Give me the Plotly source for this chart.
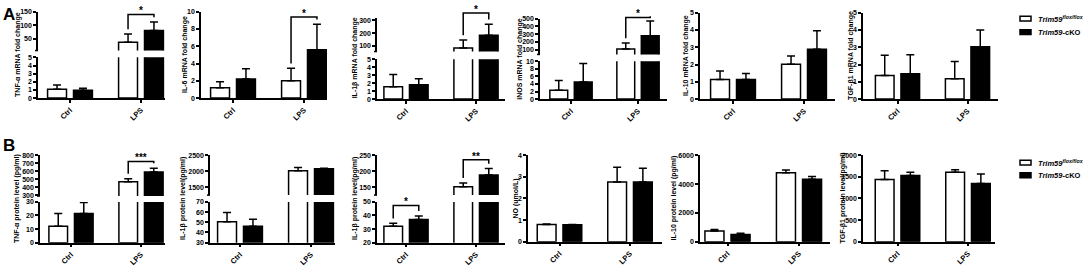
import plotly.graph_objects as go

W, H = 1084, 267

# ---------------- data ----------------
groups = ["Ctrl", "LPS"]

# Row A: mRNA fold change (mean, upper SD)
tnf_mrna_flox = [1.1, 38]
tnf_mrna_flox_sd = [0.5, 30]
tnf_mrna_cko = [0.95, 81]
tnf_mrna_cko_sd = [0.25, 31]

il6_mrna_flox = [1.2, 2.0]
il6_mrna_flox_sd = [0.7, 1.45]
il6_mrna_cko = [2.2, 5.6]
il6_mrna_cko_sd = [1.2, 2.95]

il1b_mrna_flox = [1.55, 82]
il1b_mrna_flox_sd = [1.55, 63]
il1b_mrna_cko = [1.8, 183]
il1b_mrna_cko_sd = [0.75, 87]

inos_mrna_flox = [2.35, 108]
inos_mrna_flox_sd = [2.55, 75]
inos_mrna_cko = [4.5, 279]
inos_mrna_cko_sd = [4.9, 188]

il10_mrna_flox = [1.13, 2.01]
il10_mrna_flox_sd = [0.49, 0.49]
il10_mrna_cko = [1.13, 2.88]
il10_mrna_cko_sd = [0.35, 1.07]

tgfb_mrna_flox = [1.37, 1.18]
tgfb_mrna_flox_sd = [1.17, 1.0]
tgfb_mrna_cko = [1.47, 3.03]
tgfb_mrna_cko_sd = [1.09, 0.97]

# Row B: protein levels
tnf_prot_flox = [12, 467]
tnf_prot_flox_sd = [9.4, 40]
tnf_prot_cko = [21.4, 589]
tnf_prot_cko_sd = [8.1, 49]

il1b_prot1_flox = [50.5, 2020]
il1b_prot1_flox_sd = [9, 100]
il1b_prot1_cko = [46, 2080]
il1b_prot1_cko_sd = [7, 20]

il1b_prot2_flox = [32, 152]
il1b_prot2_flox_sd = [2.2, 12]
il1b_prot2_cko = [37, 189]
il1b_prot2_cko_sd = [2.7, 20]

no_flox = [0.79, 2.77]
no_flox_sd = [0.03, 0.68]
no_cko = [0.78, 2.77]
no_cko_sd = [0.015, 0.63]

il10_prot_flox = [747, 4796]
il10_prot_flox_sd = [90, 181]
il10_prot_cko = [498, 4344]
il10_prot_cko_sd = [90, 181]

tgfb_prot_flox = [1439, 1607]
tgfb_prot_flox_sd = [204, 59]
tgfb_prot_cko = [1530, 1348]
tgfb_prot_cko_sd = [77, 220]

# tick labels
ticks_0_5 = [0, 1, 2, 3, 4, 5]
ticks_0_10 = [0, 2, 4, 6, 8, 10]
ticks_tnf_up = [50, 100, 150]
ticks_il1b_up = [100, 200, 300]
ticks_inos_up = [100, 200, 300, 400, 500]
ticks_tnfp_low = [0, 10, 20, 30]
ticks_tnfp_up = [300, 400, 500, 600, 700, 800]
ticks_il1bp1_low = [30, 40, 50, 60, 70]
ticks_il1bp1_up = [1500, 2000, 2500]
ticks_il1bp2_low = [20, 30, 40, 50]
ticks_il1bp2_up = [150, 200, 250]
ticks_no = [0, 1, 2, 3, 4]
ticks_il10p = [0, 2000, 4000, 6000]
ticks_tgfp = [0, 500, 1000, 1500, 2000]

# ---------------- layout spec (pixels) ----------------
panels = [
    dict(title="TNF-α mRNA fold change", d=(tnf_mrna_flox, tnf_mrna_flox_sd, tnf_mrna_cko, tnf_mrna_cko_sd),
         xpx=(38, 165, 70, 141), tdx=20,
         low=dict(bottom=97, top=55, range=[0, 5], ticks=ticks_0_5),
         up=dict(bottom=48, top=8, range=[7, 150], ticks=ticks_tnf_up),
         br=[(1, 140, "*")]),
    dict(title="IL-6 mRNA fold change", d=(il6_mrna_flox, il6_mrna_flox_sd, il6_mrna_cko, il6_mrna_cko_sd),
         xpx=(201, 327, 233, 304), tdx=16,
         low=dict(bottom=97, top=8, range=[0, 10], ticks=ticks_0_10), up=None,
         br=[(1, 9.4, "*")]),
    dict(title="IL-1β mRNA fold change", d=(il1b_mrna_flox, il1b_mrna_flox_sd, il1b_mrna_cko, il1b_mrna_cko_sd),
         xpx=(377, 505, 406, 476), tdx=22,
         low=dict(bottom=98, top=57, range=[0, 5], ticks=ticks_0_5),
         up=dict(bottom=49, top=14, range=[54, 323], ticks=ticks_il1b_up),
         br=[(1, 360, "*")]),
    dict(title="iNOS mRNA fold change", d=(inos_mrna_flox, inos_mrna_flox_sd, inos_mrna_cko, inos_mrna_cko_sd),
         xpx=(540, 667, 571, 638), tdx=20,
         low=dict(bottom=98, top=59, range=[0, 10], ticks=ticks_0_10),
         up=dict(bottom=52, top=15, range=[37, 500], ticks=ticks_inos_up),
         br=[(1, 515, "*")]),
    dict(title="IL-10 mRNA fold change", d=(il10_mrna_flox, il10_mrna_flox_sd, il10_mrna_cko, il10_mrna_cko_sd),
         xpx=(700, 835, 733, 804), tdx=14,
         low=dict(bottom=98, top=9, range=[0, 5], ticks=ticks_0_5), up=None, br=[]),
    dict(title="TGF-β1 mRNA fold change", d=(tgfb_mrna_flox, tgfb_mrna_flox_sd, tgfb_mrna_cko, tgfb_mrna_cko_sd),
         xpx=(863, 998, 897.5, 967.5), tdx=12,
         low=dict(bottom=98, top=9, range=[0, 5], ticks=ticks_0_5), up=None, br=[]),
    dict(title="TNF-α protein level (pg/ml)", d=(tnf_prot_flox, tnf_prot_flox_sd, tnf_prot_cko, tnf_prot_cko_sd),
         xpx=(40, 165, 71, 141), tdx=23,
         low=dict(bottom=246, top=204, range=[0, 30], ticks=ticks_tnfp_low),
         up=dict(bottom=198, top=156, range=[288, 800], ticks=ticks_tnfp_up),
         br=[(1, 723, "***")]),
    dict(title="IL-1β protein level(pg/ml)", d=(il1b_prot1_flox, il1b_prot1_flox_sd, il1b_prot1_cko, il1b_prot1_cko_sd),
         xpx=(210, 335, 240, 311), tdx=27,
         low=dict(bottom=246, top=204, range=[30, 70], ticks=ticks_il1bp1_low),
         up=dict(bottom=197, top=156, range=[1258, 2500], ticks=ticks_il1bp1_up),
         br=[]),
    dict(title="IL-1β protein level(pg/ml)", d=(il1b_prot2_flox, il1b_prot2_flox_sd, il1b_prot2_cko, il1b_prot2_cko_sd),
         xpx=(377, 505, 406, 476), tdx=22,
         low=dict(bottom=246, top=204, range=[20, 50], ticks=ticks_il1bp2_low),
         up=dict(bottom=197, top=156, range=[126, 250], ticks=ticks_il1bp2_up),
         br=[(0, 47.4, "*"), (1, 236, "**")]),
    dict(title="NO (umol/L)", d=(no_flox, no_flox_sd, no_cko, no_cko_sd),
         xpx=(528, 662, 559.5, 630), tdx=12,
         low=dict(bottom=245, top=156, range=[0, 4], ticks=ticks_no), up=None, br=[]),
    dict(title="IL-10 protein level (pg/ml)", d=(il10_prot_flox, il10_prot_flox_sd, il10_prot_cko, il10_prot_cko_sd),
         xpx=(700, 830, 727.5, 799), tdx=26,
         low=dict(bottom=245, top=156, range=[0, 6000], ticks=ticks_il10p), up=None, br=[]),
    dict(title="TGF-β1 protein level(pg/ml)", d=(tgfb_prot_flox, tgfb_prot_flox_sd, tgfb_prot_cko, tgfb_prot_cko_sd),
         xpx=(863, 995, 897.5, 968), tdx=20,
         low=dict(bottom=245, top=156, range=[0, 2000], ticks=ticks_tgfp), up=None, br=[]),
]

FONT = "Liberation Sans, Arial, Helvetica, sans-serif"
BARGAP = 0.27
GROUPGAP = 0.27
LW = 1.5


def py(p):
    return 1 - p / H


def pxx(p):
    return p / W


def seg_px(seg, v):
    r0, r1 = seg["range"]
    return seg["bottom"] + (seg["top"] - seg["bottom"]) * (v - r0) / (r1 - r0)


def val_px(panel, v):
    up = panel["up"]
    if up is not None and v >= up["range"][0]:
        return seg_px(up, v)
    return seg_px(panel["low"], v)


tickfont = dict(family=FONT, size=7, color="black", weight="bold")
axis_common = dict(showline=True, linecolor="black", linewidth=LW, ticks="outside", ticklen=3,
                   tickwidth=LW, tickcolor="black", showgrid=False, zeroline=False,
                   tickfont=tickfont, fixedrange=True)

fig = go.Figure()
lay = {}
shapes = []
annotations = []
xi = 0
yi = 0

for p in panels:
    left, right, cc, lc = p["xpx"]
    dpx = lc - cc
    xi += 1
    xname = "x" if xi == 1 else f"x{xi}"
    segs = [p["low"]] + ([p["up"]] if p["up"] else [])
    ynames = []
    for s in segs:
        yi += 1
        ynames.append("y" if yi == 1 else f"y{yi}")
    lay[xname.replace("x", "xaxis", 1)] = dict(
        axis_common, domain=[pxx(left), pxx(right)], anchor=ynames[0], type="category",
        categoryorder="array", categoryarray=groups,
        range=[(left - cc) / dpx, (right - cc) / dpx], tickangle=-45,
        tickfont=dict(tickfont, size=7.5))
    for s, yn in zip(segs, ynames):
        lay[yn.replace("y", "yaxis", 1)] = dict(
            axis_common, domain=[py(s["bottom"]), py(s["top"])], anchor=xname,
            range=s["range"], tickmode="array", tickvals=s["ticks"])
        flox, flox_sd, cko, cko_sd = p["d"]
        for vals, sd, col in ((flox, flox_sd, "white"), (cko, cko_sd, "black")):
            fig.add_trace(go.Bar(
                x=groups, y=vals, xaxis=xname, yaxis=yn, showlegend=False, hoverinfo="skip",
                marker=dict(color=col, line=dict(color="black", width=LW)),
                error_y=dict(type="data", array=sd, arrayminus=[0] * len(sd), symmetric=False,
                             color="black", thickness=LW, width=4)))
    if p["up"]:
        ub = p["up"]["bottom"]
        shapes.append(dict(type="line", xref="paper", yref="paper", x0=pxx(left - 3), x1=pxx(left),
                           y0=py(ub), y1=py(ub), line=dict(color="black", width=LW)))
    top_px = (p["up"] or p["low"])["top"]
    annotations.append(dict(text=p["title"], x=pxx(left - p["tdx"]), y=py((top_px + p["low"]["bottom"]) / 2),
                            xref="paper", yref="paper", textangle=-90, showarrow=False,
                            xanchor="center", yanchor="middle",
                            font=dict(family=FONT, size=7, color="black", weight="bold")))
    slot = (1 - BARGAP) / 2 * dpx
    flox, flox_sd, cko, cko_sd = p["d"]
    for cat, yv, lab in p["br"]:
        c = cc + cat * dpx
        x1, x2 = c - slot / 2, c + slot / 2
        yb = val_px(p, yv)
        yl = val_px(p, flox[cat] + flox_sd[cat]) - 5
        yr = val_px(p, cko[cat] + cko_sd[cat]) - 5
        shapes.append(dict(type="path", xref="paper", yref="paper",
                           path=f"M {pxx(x1)},{py(yl)} L {pxx(x1)},{py(yb)} L {pxx(x2)},{py(yb)} L {pxx(x2)},{py(yr)}",
                           line=dict(color="black", width=LW)))
        annotations.append(dict(text=lab, x=pxx(c), y=py(yb), xref="paper", yref="paper", showarrow=False,
                                xanchor="center", yanchor="bottom", yshift=-4,
                                font=dict(family=FONT, size=10, color="black", weight="bold")))

# panel letters
for lab, ytop in (("A", -1), ("B", 134)):
    annotations.append(dict(text=f"<b>{lab}</b>", x=pxx(1), y=py(ytop), xref="paper", yref="paper",
                            showarrow=False, xanchor="left", yanchor="top",
                            font=dict(family=FONT, size=17, color="black")))

# legends
legend_labels = ["<b><i>Trim59</i></b><sup><b><i>flox/flox</i></b></sup>", "<b><i>Trim59</i>-cKO</b>"]
for ys in ((15, 29), (163.5, 176.5)):
    for yc, col, lab in zip(ys, ("white", "black"), legend_labels):
        shapes.append(dict(type="rect", xref="paper", yref="paper", x0=pxx(1020), x1=pxx(1031),
                           y0=py(yc + 2.5), y1=py(yc - 2.5), fillcolor=col, line=dict(color="black", width=LW)))
        annotations.append(dict(text=lab, x=pxx(1036), y=py(yc), xref="paper", yref="paper", showarrow=False,
                                xanchor="left", yanchor="middle",
                                font=dict(family=FONT, size=7.5, color="black")))

fig.update_layout(width=W, height=H, margin=dict(l=0, r=0, t=0, b=0), paper_bgcolor="white",
                  plot_bgcolor="rgba(0,0,0,0)", barmode="group", bargap=BARGAP, bargroupgap=GROUPGAP,
                  showlegend=False, shapes=shapes, annotations=annotations, **lay)
fig.write_html("out.html", config={"displayModeBar": False},
               post_script="document.body.style.margin='0';document.body.style.overflow='hidden';")
